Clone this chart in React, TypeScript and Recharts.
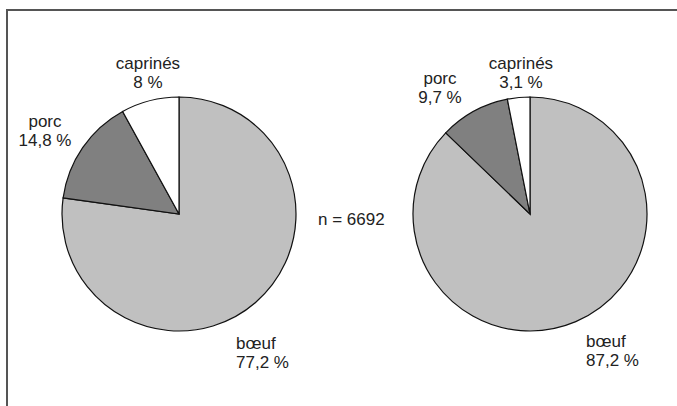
import React from "react";
import { PieChart, Pie, Cell } from "recharts";

const categories = ["bœuf", "porc", "caprinés"];
const leftValues = [77.2, 14.8, 8];
const rightValues = [87.2, 9.7, 3.1];
const sampleSize = 6692;

const fills: Record<string, string> = {
  "bœuf": "#c0c0c0",
  porc: "#808080",
  "caprinés": "#ffffff"
};

// label offsets from the pie centre, per pie
const leftLabelPos: Record<string, { dx: number; dy: number; anchor: string }> = {
  "bœuf": { dx: 57, dy: 129, anchor: "start" },
  porc: { dx: -134, dy: -93, anchor: "middle" },
  "caprinés": { dx: -31, dy: -151, anchor: "middle" }
};
const rightLabelPos: Record<string, { dx: number; dy: number; anchor: string }> = {
  "bœuf": { dx: 56, dy: 127, anchor: "start" },
  porc: { dx: -90, dy: -136, anchor: "middle" },
  "caprinés": { dx: -9, dy: -151, anchor: "middle" }
};

const fmt = (v: number) => `${String(v).replace(".", ",")} %`;

const makeData = (values: number[]) =>
  categories.map((name, i) => ({ name, value: values[i] }));

const leftData = makeData(leftValues);
const rightData = makeData(rightValues);

const makeLabel = (pos: typeof leftLabelPos) => (props: any) => {
  const { cx, cy, name, value } = props;
  const p = pos[name];
  const x = cx + p.dx;
  const y = cy + p.dy;
  return (
    <text
      x={x}
      y={y}
      textAnchor={p.anchor}
      fill="#222"
      fontSize={17}
      fontFamily="'Liberation Sans', Arial, sans-serif"
    >
      <tspan x={x} dy={6}>{name}</tspan>
      <tspan x={x} dy={19}>{fmt(value)}</tspan>
    </text>
  );
};

const App = () => {
  return (
    <div
      style={{
        position: "fixed",
        left: 0,
        top: 0,
        width: 677,
        height: 406,
        background: "#fff",
        overflow: "hidden"
      }}
    >
      <PieChart
        width={677}
        height={406}
        margin={{ top: 0, right: 0, bottom: 0, left: 0 }}
      >
        {/* frame: top and left edges only */}
        <path d="M7,406 L7,10 L677,10" fill="none" stroke="#555" strokeWidth={2} />
        <Pie
          data={leftData}
          dataKey="value"
          nameKey="name"
          cx={179}
          cy={214}
          outerRadius={117}
          startAngle={90}
          endAngle={-270}
          stroke="#111"
          strokeWidth={1.2}
          label={makeLabel(leftLabelPos)}
          labelLine={false}
          isAnimationActive={false}
        >
          {leftData.map((d, i) => (
            <Cell key={`l-${i}`} fill={fills[d.name]} />
          ))}
        </Pie>
        <Pie
          data={rightData}
          dataKey="value"
          nameKey="name"
          cx={530}
          cy={214}
          outerRadius={117}
          startAngle={90}
          endAngle={-270}
          stroke="#111"
          strokeWidth={1.2}
          label={makeLabel(rightLabelPos)}
          labelLine={false}
          isAnimationActive={false}
        >
          {rightData.map((d, i) => (
            <Cell key={`r-${i}`} fill={fills[d.name]} />
          ))}
        </Pie>
        <text
          x={318}
          y={225}
          fill="#222"
          fontSize={17}
          fontFamily="'Liberation Sans', Arial, sans-serif"
        >
          {`n = ${sampleSize}`}
        </text>
      </PieChart>
    </div>
  );
};

export default App;
